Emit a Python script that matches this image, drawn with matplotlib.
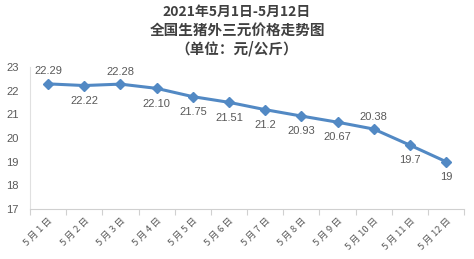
import matplotlib
matplotlib.use("Agg")
import matplotlib.pyplot as plt

categories = ["5 月 1 日", "5 月 2 日", "5 月 3 日", "5 月 4 日", "5 月 5 日", "5 月 6 日",
              "5 月 7 日", "5 月 8 日", "5 月 9 日", "5 月 10 日", "5 月 11 日", "5 月 12 日"]
prices = [22.29, 22.22, 22.28, 22.10, 21.75, 21.51, 21.2, 20.93, 20.67, 20.38, 19.7, 19]
labels = ["22.29", "22.22", "22.28", "22.10", "21.75", "21.51", "21.2", "20.93", "20.67", "20.38", "19.7", "19"]
label_above = [True, False, True, False, False, False, False, False, False, True, False, False]
yticks = [17, 18, 19, 20, 21, 22, 23]

plt.rcParams['font.family'] = ['Noto Sans CJK SC', 'DejaVu Sans']

fig = plt.figure(figsize=(4.74, 2.59), dpi=100)
ax = fig.add_axes([0.0633, 0.193, 0.916, 0.548])

x = list(range(len(categories)))
ax.plot(x, prices, color='#5289C4', lw=2.2, marker='D', ms=5, mfc='#5289C4', mec='#5289C4', zorder=3)

for xi, v, lab, up in zip(x, prices, labels, label_above):
    ax.annotate(lab, (xi, v), xytext=(0, 9 if up else -11), textcoords='offset points',
                ha='center', va='center', fontsize=8, color='#595959', family='Liberation Sans')

ax.set_xlim(-0.5, len(categories) - 0.5)
ax.set_ylim(17, 23)
ax.set_yticks(yticks)
ax.set_yticklabels([str(t) for t in yticks], fontsize=8, color='#595959', family='Liberation Sans')
ax.tick_params(axis='y', length=0, pad=8)

ax.set_xticks(x)
ax.set_xticklabels(categories, rotation=45, ha='right', rotation_mode='anchor',
                   fontsize=6.8, color='#595959')
ax.tick_params(axis='x', length=0, pad=5)
ax.set_xticks([i - 0.5 for i in range(len(categories) + 1)], minor=True)
ax.tick_params(axis='x', which='minor', length=4, color='#D0D0D0', width=0.8)

for s in ['top', 'right']:
    ax.spines[s].set_visible(False)
ax.spines['bottom'].set_color('#D0D0D0')
ax.spines['left'].set_color('#E0E0E0')
ax.spines['bottom'].set_linewidth(0.8)
ax.spines['left'].set_linewidth(0.8)

fig.text(0.5, 0.953, "2021年5月1日-5月12日", ha='center', va='center', fontsize=10,
         fontweight='bold', color='#404040')
fig.text(0.5, 0.884, "全国生猪外三元价格走势图", ha='center', va='center', fontsize=10.5,
         fontweight='bold', color='#404040')
fig.text(0.5, 0.811, "（单位：元/公斤）", ha='center', va='center', fontsize=10.5,
         fontweight='bold', color='#404040')

fig.savefig("out.png", dpi=100)
